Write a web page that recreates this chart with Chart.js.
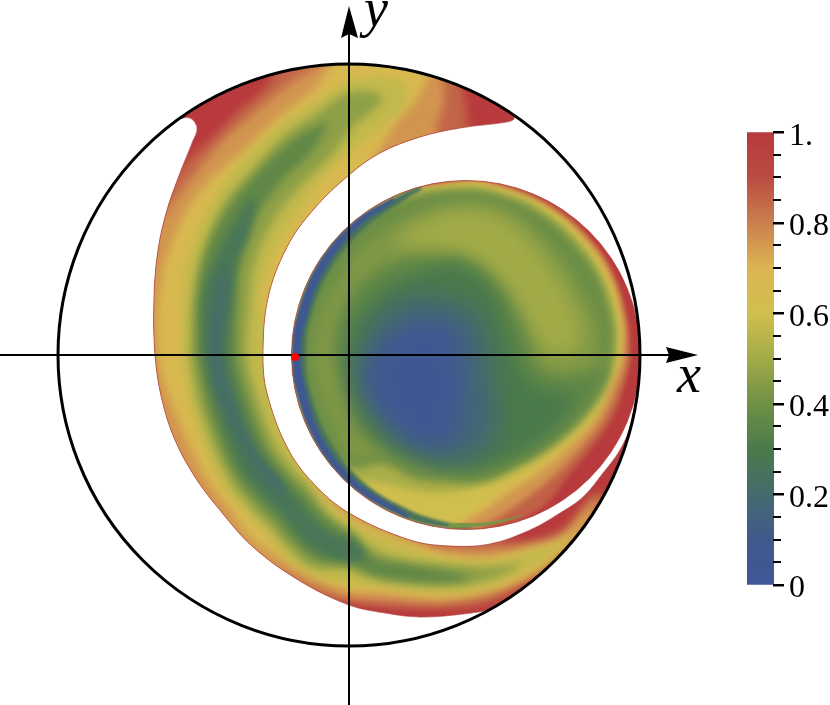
<!DOCTYPE html>
<html>
<head>
<meta charset="utf-8">
<style>
  html, body { margin: 0; background: #fff; }
  #field { position: absolute; left: 0; top: 0; }
  #bar { position: absolute; left: 740px; top: 98px; }
</style>
</head>
<body>
<canvas id="field" width="830" height="705"></canvas>
<canvas id="bar" width="90" height="521"></canvas>
<script src="https://cdn.jsdelivr.net/npm/chart.js@4/dist/chart.umd.min.js"></script>
<script>
// colour scale
const cmapValues = [0, 0.1, 0.2, 0.3, 0.4, 0.5, 0.6, 0.7, 0.8, 0.9, 1];
const cmapColors = ['#3f5796', '#40598c', '#456b6e', '#4a7a4b', '#6f9045', '#a3ab48', '#d0bf4e', '#ddb552', '#ca7f4e', '#ba4b41', '#b83a3d'];
const barTicks = [0, 0.05, 0.1, 0.15, 0.2, 0.25, 0.3, 0.35, 0.4, 0.45, 0.5, 0.55, 0.6, 0.65, 0.7, 0.75, 0.8, 0.85, 0.9, 0.95, 1];
const barMajor = { '0': '0', '0.2': '0.2', '0.4': '0.4', '0.6': '0.6', '0.8': '0.8', '1': '1.' };

// plot geometry, unit = 1/291 of the big circle radius
const origin = [[0, 0]];
const discCentre = [[117, 0]];
const redPoint = [[-54, -2]];
const xAxisLine = [[-349, 0], [320, 0]];
const yAxisLine = [[0, -350], [0, 322]];
const xArrow = [[349, 0], [317, 8], [320, 0], [317, -8]];
const yArrow = [[0, 349], [-8, 317], [0, 321], [9, 317]];

// outline of the crescent shaped region
const crescentEdge = [[-171, 236], [-149, 250], [-99, 274], [-49, 287], [0, 291], [51, 287], [101, 273], [141, 255], [163, 241], [165, 236], [158, 233], [111, 227], [71, 218], [31, 202], [0, 180], [-36, 145], [-62, 108], [-81, 57], [-86, 0], [-82, -38], [-62, -92], [-36, -128], [0, -158], [61, -185], [101, -191], [141, -189], [181, -175], [211, -158], [234, -142], [254, -118], [271, -95], [281, -72], [287, -45], [279, -82], [263, -125], [234, -173], [201, -210], [171, -235], [144, -253], [114, -259], [71, -262], [36, -258], [0, -250], [-49, -226], [-96, -192], [-130, -154], [-154, -122], [-174, -85], [-187, -45], [-194, 0], [-195, 58], [-191, 105], [-182, 145], [-169, 182], [-157, 212], [-152, 227], [-159, 237]];

// crescent contours: value below the level inside each loop
const crescent90 = [[-166, 192], [-199, 155], [-209, 0], [-179, -125], [-109, -215], [-29, -242], [0, -247], [36, -251], [71, -253], [101, -253], [141, -248], [181, -226], [206, -213], [241, -173], [258, -140], [246, -140], [234, -152], [214, -174], [181, -185], [151, -185], [121, -170], [71, -160], [0, -140], [-49, -85], [-64, -45], [-74, 0], [-64, 65], [-19, 150], [11, 175], [51, 190], [91, 205], [116, 212], [118, 238], [114, 262], [106, 285], [0, 305], [-69, 300], [-81, 270], [-109, 245], [-142, 212]];
const crescent80 = [[-181, 148], [-204, 105], [-209, 0], [-184, -125], [-119, -210], [-79, -213], [-39, -230], [0, -243], [36, -246], [71, -248], [101, -247], [141, -239], [181, -222], [211, -201], [236, -175], [251, -145], [241, -148], [214, -179], [181, -190], [141, -194], [111, -194], [81, -190], [61, -175], [0, -140], [-49, -85], [-64, -45], [-74, 0], [-64, 65], [-19, 150], [11, 175], [51, 190], [88, 205], [88, 230], [94, 248], [94, 275], [86, 290], [0, 305], [-22, 295], [-59, 272], [-92, 245], [-126, 215], [-162, 172]];
const crescent70 = [[-186, 88], [-166, 138], [-139, 175], [-102, 208], [-66, 242], [-36, 265], [-11, 293], [51, 297], [78, 287], [69, 258], [48, 233], [34, 212], [11, 175], [-19, 150], [-64, 65], [-74, 0], [-64, -45], [-49, -85], [-24, -140], [0, -161], [36, -178], [71, -191], [101, -200], [141, -202], [181, -193], [214, -183], [243, -158], [226, -180], [206, -201], [181, -220], [141, -236], [101, -243], [71, -242], [36, -238], [0, -235], [-49, -215], [-99, -182], [-119, -155], [-142, -125], [-162, -85], [-179, -45], [-189, -12], [-192, 35]];
const crescent60 = [[-164, 88], [-142, 145], [-109, 192], [-76, 225], [-42, 248], [-16, 265], [11, 277], [51, 275], [59, 255], [36, 230], [11, 210], [-19, 185], [-49, 145], [-74, 105], [-89, 57], [-83, 35], [-74, 0], [-64, -45], [-49, -110], [-29, -140], [0, -167], [24, -178], [61, -194], [101, -205], [141, -206], [181, -197], [214, -188], [229, -178], [214, -193], [181, -213], [141, -231], [101, -237], [61, -235], [24, -231], [0, -228], [-40, -219], [-66, -199], [-84, -177], [-101, -160], [-129, -125], [-156, -56], [-166, 0]];
const crescent50 = [[-159, 0], [-154, 72], [-129, 145], [-96, 185], [-66, 218], [-32, 242], [-2, 262], [24, 263], [33, 255], [24, 245], [4, 228], [-19, 198], [-52, 165], [-77, 132], [-94, 92], [-99, 57], [-102, 0], [-94, -36], [-75, -89], [-56, -115], [-40, -132], [-26, -153], [-10, -168], [3, -176], [24, -194], [61, -206], [101, -210], [141, -212], [171, -210], [141, -224], [101, -231], [61, -229], [24, -223], [0, -215], [-36, -212], [-60, -193], [-79, -172], [-96, -155], [-122, -120], [-149, -53]];
const crescent40 = [[-152, 0], [-151, 57], [-142, 105], [-117, 152], [-86, 188], [-56, 215], [-29, 230], [-21, 233], [-36, 205], [-69, 172], [-96, 132], [-109, 92], [-112, 57], [-112, 0], [-103, -39], [-82, -94], [-62, -121], [-45, -138], [-29, -157], [-12, -171], [3, -181], [24, -202], [61, -210], [101, -217], [121, -223], [101, -227], [61, -226], [24, -220], [0, -208], [-32, -205], [-55, -187], [-73, -166], [-90, -149], [-116, -116], [-141, -51]];
const crescent30 = [[-146, 0], [-146, 57], [-132, 98], [-112, 135], [-96, 158], [-99, 125], [-112, 92], [-117, 57], [-121, 0], [-112, -42], [-90, -99], [-68, -127], [-51, -144], [-35, -164], [-16, -179], [4, -185], [17, -203], [-4, -206], [-28, -198], [-50, -181], [-67, -160], [-84, -143], [-109, -112], [-133, -49]];
const crescent22 = [[-134, 55], [-127, 85], [-121, 75], [-127, 15], [-120, -35], [-94, -95], [-69, -125], [-64, -140], [-84, -125], [-114, -75], [-134, -30], [-139, 15]];

// disc contours: outer rim first, then the interior
const disc90 = [[281, -5], [276, -28], [264, -62], [241, -95], [216, -125], [196, -150], [162, -168], [117, -174], [30, -151], [-34, -87], [-58, 0], [-34, 87], [30, 151], [117, 174], [162, 167], [203, 149], [237, 120], [262, 84], [278, 34]];
const disc80 = [[278, -5], [271, -28], [256, -62], [231, -95], [204, -122], [171, -148], [141, -167], [121, -174], [30, -151], [-34, -87], [-58, 0], [-34, 87], [30, 151], [117, 174], [161, 166], [202, 147], [236, 119], [261, 83], [276, 34]];
const disc70 = [[273, -5], [264, -28], [248, -62], [221, -92], [191, -117], [161, -137], [136, -155], [116, -167], [101, -174], [30, -151], [-34, -87], [-58, 0], [-34, 87], [30, 151], [117, 173], [161, 164], [201, 145], [234, 117], [259, 82], [273, 33]];
const disc60 = [[269, -3], [260, -28], [244, -62], [217, -90], [184, -114], [151, -135], [129, -152], [106, -167], [91, -174], [30, -150], [-33, -87], [-57, 0], [-33, 87], [30, 150], [117, 170], [160, 162], [200, 144], [232, 115], [256, 80], [270, 33]];
const disc50 = [[267, 0], [254, -28], [241, -50], [219, -73], [186, -97], [151, -120], [121, -133], [91, -138], [61, -135], [31, -128], [10, -125], [-12, -112], [-33, -86], [-56, 0], [-33, 86], [30, 150], [117, 168], [160, 160], [198, 141], [230, 113], [253, 78], [267, 32]];
const disc45 = [[264, 0], [259, -20], [248, -42], [228, -67], [198, -92], [163, -112], [133, -125], [96, -125], [66, -122], [36, -108], [0, -112], [-30, -85], [-47, -44], [-54, 0], [-47, 44], [-29, 84], [9, 129], [60, 157], [117, 165], [159, 157], [197, 138], [227, 110], [250, 77], [264, 31]];
const olive43 = [[111, 150], [144, 147], [178, 130], [211, 97], [231, 67], [248, 33], [251, 3], [256, -17], [246, -40], [226, -65], [196, -90], [161, -110], [131, -121], [96, -121], [66, -118], [36, -102], [1, -102], [-19, -65], [-33, -25], [-37, 0], [-31, 35], [-14, 70], [11, 105], [46, 130], [81, 145]];
const olive51 = [[51, 123], [96, 143], [131, 145], [161, 133], [191, 103], [216, 65], [231, 30], [229, 5], [201, 0], [181, 25], [156, 70], [121, 97], [81, 107], [51, 107]];
const core40 = [[-14, 0], [-11, 30], [8, 67], [33, 87], [59, 97], [89, 97], [111, 97], [144, 73], [168, 40], [181, 10], [186, -8], [198, -18], [228, -20], [254, -10], [256, -20], [246, -40], [226, -65], [196, -90], [161, -110], [131, -120], [96, -118], [69, -112], [36, -95], [9, -72], [-7, -28]];
const core30 = [[-2, 0], [6, 33], [29, 60], [63, 80], [96, 90], [126, 83], [148, 55], [161, 15], [176, -20], [201, -37], [226, -40], [216, -62], [196, -82], [166, -100], [136, -110], [111, -113], [86, -110], [53, -97], [29, -80], [9, -52], [1, -22]];
const core20 = [[9, 0], [29, 37], [66, 59], [103, 53], [126, 43], [138, 15], [143, -28], [148, -62], [139, -92], [116, -105], [86, -105], [56, -92], [31, -70], [16, -48], [6, -22]];
const core10 = [[26, 0], [46, 23], [76, 33], [104, 27], [112, 0], [115, -30], [112, -60], [104, -83], [81, -92], [51, -77], [29, -52], [17, -23]];
const rim30 = [[72, 169], [57, 163], [5, 133], [-33, 87], [-54, 30], [-57, 0], [-54, -30], [-33, -87], [5, -133], [57, -163], [100, -173], [125, -172], [100, -168], [60, -155], [12, -125], [-22, -81], [-41, -28], [-43, 0], [-41, 28], [-22, 80], [13, 124], [60, 158], [72, 165]];
const rim10 = [[44, 157], [5, 133], [-33, 87], [-54, 30], [-56, 0], [-54, -30], [-33, -87], [5, -133], [58, -163], [59, -160], [9, -128], [-27, -83], [-45, -28], [-48, 0], [-45, 28], [-26, 82], [9, 128], [45, 154]];
const rimBottom = [[100, -173], [140, -170], [175, -160], [140, -167], [100, -169]];

// the big circle markers must not shrink the plot area
Chart.registry.getController('line').prototype.getMaxOverflow = () => 0;

function colorAt(value) {
    let i = 0;
    while (i < cmapValues.length - 2 && value > cmapValues[i + 1]) i++;
    const t = (value - cmapValues[i]) / (cmapValues[i + 1] - cmapValues[i]);
    const a = parseInt(cmapColors[i].slice(1), 16);
    const b = parseInt(cmapColors[i + 1].slice(1), 16);
    const mix = shift => Math.round((a >> shift & 255) * (1 - t) + (b >> shift & 255) * t);
    return `rgb(${mix(16)},${mix(8)},${mix(0)})`;
}

function xy(points) {
    return points.map(p => ({ x: p[0], y: p[1] }));
}

function loop(points) {
    return xy(points.concat([points[0]]));
}

function band(points, value, group, blurPx) {
    return {
        data: loop(points), group: group, blurPx: blurPx,
        backgroundColor: colorAt(value), borderWidth: 0, pointRadius: 0,
        fill: 'shape', tension: 0.38
    };
}

function marker(points, radius, fillColor, lineColor, lineWidth, group) {
    return {
        data: xy(points), group: group, blurPx: 0, showLine: false, fill: false,
        pointRadius: radius, pointBackgroundColor: fillColor,
        pointBorderColor: lineColor, pointBorderWidth: lineWidth, clip: false
    };
}

function stroke(points, color, width, tension) {
    return { data: points, borderColor: color, borderWidth: width, pointRadius: 0, fill: false, tension: tension };
}

function arrow(points) {
    return { data: loop(points), backgroundColor: '#000', borderWidth: 0, pointRadius: 0, fill: 'shape', tension: 0 };
}

// listed in drawing order, Chart.js paints the highest index first
const drawOrder = [
    { data: loop(crescentEdge), group: 'crescent', blurPx: 0, backgroundColor: colorAt(1), borderWidth: 0, pointRadius: 0, fill: 'shape', tension: 0.36, isEdge: true },
    band(crescent90, 0.85, 'crescent', 5),
    band(crescent80, 0.76, 'crescent', 5),
    band(crescent70, 0.66, 'crescent', 4),
    band(crescent60, 0.57, 'crescent', 4),
    band(crescent50, 0.46, 'crescent', 4),
    band(crescent40, 0.36, 'crescent', 4),
    band(crescent30, 0.27, 'crescent', 4),
    band(crescent22, 0.21, 'crescent', 5),
    marker(discCentre, 176, colorAt(1), colorAt(1), 0, 'disc'),
    band(disc90, 0.86, 'disc', 2.5),
    band(disc80, 0.76, 'disc', 3),
    band(disc70, 0.66, 'disc', 3),
    band(disc60, 0.6, 'disc', 2.5),
    band(disc50, 0.52, 'disc', 3),
    band(disc45, 0.39, 'disc', 4),
    band(olive43, 0.43, 'disc', 7),
    band(olive51, 0.5, 'disc', 10),
    band(core40, 0.36, 'disc', 7),
    band(core30, 0.3, 'disc', 8),
    band(core20, 0.17, 'disc', 12),
    band(core10, 0.04, 'disc', 10),
    band(rim30, 0.25, 'disc', 1.5),
    band(rim10, 0.05, 'disc', 1),
    band(rimBottom, 0.42, 'disc', 0.7),
    stroke(loop(crescentEdge), 'rgba(175,65,60,0.7)', 1, 0.36),
    marker(discCentre, 174.5, 'rgba(0,0,0,0)', 'rgba(175,65,60,0.7)', 1),
    marker(origin, 291, 'rgba(0,0,0,0)', '#000', 3),
    stroke(xy(xAxisLine), '#000', 2, 0),
    stroke(xy(yAxisLine), '#000', 2, 0),
    arrow(xArrow),
    arrow(yArrow),
    marker(redPoint, 4, '#f00', '#f00', 0)
];
const fieldDatasets = drawOrder.slice().reverse();

// fills run in beforeDatasetDraw, so clip and blur are set up ahead of each dataset
let regionOpen = false;

function closeRegion(chart) {
    if (regionOpen) chart.ctx.restore();
    regionOpen = false;
}

function openRegion(chart, index) {
    const ds = chart.data.datasets[index];
    if (!ds || !ds.group) return;
    const ctx = chart.ctx;
    ctx.save();
    ctx.beginPath();
    if (ds.group === 'crescent') {
        const edge = chart.getDatasetMeta(chart.data.datasets.findIndex(d => d.isEdge)).dataset;
        edge.updateControlPoints(chart.chartArea, 'x');
        edge.path(ctx);
        ctx.closePath();
    } else {
        const cx = chart.scales.x.getPixelForValue(discCentre[0][0]);
        const cy = chart.scales.y.getPixelForValue(discCentre[0][1]);
        const r = chart.scales.x.getPixelForValue(discCentre[0][0] + 174.5) - cx;
        ctx.arc(cx, cy, r, 0, Math.PI * 2);
    }
    ctx.clip();
    ctx.filter = ds.blurPx ? `blur(${ds.blurPx}px)` : 'none';
    regionOpen = true;
}

const regionPlugin = {
    id: 'region',
    beforeDatasetsDraw(chart) {
        openRegion(chart, chart.data.datasets.length - 1);
    },
    afterDatasetDraw(chart, args) {
        closeRegion(chart);
        openRegion(chart, args.index - 1);
    },
    afterDatasetsDraw(chart) {
        closeRegion(chart);
        const ctx = chart.ctx;
        ctx.fillStyle = '#000';
        ctx.font = 'italic 54px "Liberation Serif"';
        ctx.textAlign = 'left';
        ctx.fillText('x', chart.scales.x.getPixelForValue(328), chart.scales.y.getPixelForValue(-37));
        ctx.fillText('y', chart.scales.x.getPixelForValue(15), chart.scales.y.getPixelForValue(329));
    }
};

new Chart(document.getElementById('field'), {
    type: 'line',
    data: { datasets: fieldDatasets },
    plugins: [regionPlugin],
    options: {
        responsive: false,
        animation: false,
        events: [],
        layout: { padding: 0 },
        plugins: { legend: { display: false }, tooltip: { enabled: false } },
        scales: {
            x: { type: 'linear', min: -349, max: 481, display: false },
            y: { type: 'linear', min: -350, max: 355, display: false }
        }
    }
});

// colour bar with its own axis
const barTickPlugin = {
    id: 'barTicks',
    afterDraw(chart) {
        const ctx = chart.ctx;
        const right = chart.chartArea.right;
        ctx.fillStyle = '#000';
        barTicks.forEach(v => {
            const major = barMajor[String(v)] !== undefined;
            const y = chart.scales.y.getPixelForValue(v);
            ctx.fillRect(right - 1, Math.round(y) - 1, major ? 11 : 8, major ? 2.5 : 2);
        });
    }
};

new Chart(document.getElementById('bar'), {
    type: 'bar',
    data: {
        labels: [''],
        datasets: [{
            data: [1],
            barPercentage: 1,
            categoryPercentage: 1,
            backgroundColor(context) {
                const { chart } = context;
                if (!chart.chartArea) return cmapColors[0];
                const g = chart.ctx.createLinearGradient(0, chart.scales.y.getPixelForValue(0), 0, chart.scales.y.getPixelForValue(1));
                cmapValues.forEach((v, i) => g.addColorStop(v, cmapColors[i]));
                return g;
            }
        }]
    },
    plugins: [barTickPlugin],
    options: {
        responsive: false,
        animation: false,
        events: [],
        layout: { padding: { left: 7, top: 0, bottom: 4, right: 0 } },
        plugins: { legend: { display: false }, tooltip: { enabled: false } },
        scales: {
            x: { display: false },
            y: {
                position: 'right',
                min: 0,
                max: 1,
                afterFit(axis) { axis.width = 56; },
                afterBuildTicks(axis) { axis.ticks = barTicks.map(v => ({ value: v })); },
                border: { display: false },
                grid: { display: false, drawTicks: false },
                ticks: {
                    autoSkip: false,
                    padding: 15,
                    labelOffset: 4,
                    color: '#000',
                    font: { family: '"Liberation Serif"', size: 32 },
                    callback(value) { return barMajor[String(value)] || ''; }
                }
            }
        }
    }
});
</script>
</body>
</html>
